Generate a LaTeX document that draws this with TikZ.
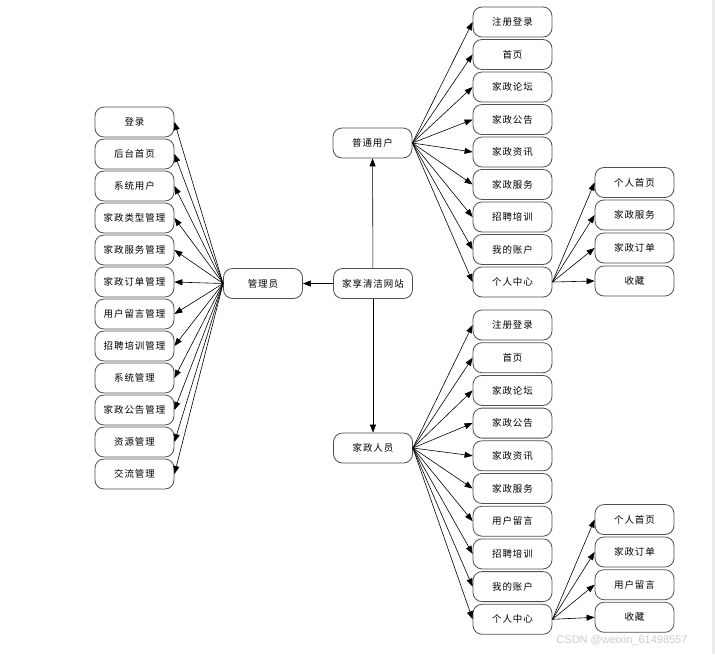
\documentclass[tikz,border=0pt]{standalone}
\usepackage{fontspec}
\newfontfamily\cjk{Noto Sans CJK SC}[LetterSpace=10]
\newfontfamily\wmfont{Liberation Sans}
\usetikzlibrary{arrows.meta}
\definecolor{boxline}{HTML}{505050}
\tikzset{
  box/.style={draw=boxline, line width=0.8pt, rounded corners=9pt, fill=white,
    minimum width=79pt, minimum height=30pt, inner sep=0pt, font=\cjk\fontsize{9.5}{11}\selectfont},
  link/.style={-{Triangle[length=8pt, width=6pt]}, line width=0.6pt, black}
}
\begin{document}
\begin{tikzpicture}[x=1pt, y=-1pt]
    \useasboundingbox (0,0) rectangle (715,654);
    \fill[white] (0,0) rectangle (715,654);
    \fill[gray!15] (712,0) rectangle (715,654);

    % 中心
    \node[box] (site) at (373, 283.5) {家享清洁网站};
    \node[box] (adm) at (263, 283.5) {管理员};
    \node[box] (user) at (372.5, 143) {普通用户};
    \node[box] (staff) at (373, 448) {家政人员};

    % 管理员功能
    \node[box] (a1) at (134.5, 122) {登录};
    \node[box] (a2) at (134.5, 154) {后台首页};
    \node[box] (a3) at (134.5, 186) {系统用户};
    \node[box] (a4) at (134.5, 218) {家政类型管理};
    \node[box] (a5) at (134.5, 250) {家政服务管理};
    \node[box] (a6) at (134.5, 282) {家政订单管理};
    \node[box] (a7) at (134.5, 314) {用户留言管理};
    \node[box] (a8) at (134.5, 346) {招聘培训管理};
    \node[box] (a9) at (134.5, 378) {系统管理};
    \node[box] (a10) at (134.5, 410) {家政公告管理};
    \node[box] (a11) at (134.5, 442) {资源管理};
    \node[box] (a12) at (134.5, 474) {交流管理};

    % 普通用户功能
    \node[box] (u1) at (512.5, 22) {注册登录};
    \node[box] (u2) at (512.5, 54.5) {首页};
    \node[box] (u3) at (512.5, 87) {家政论坛};
    \node[box] (u4) at (512.5, 119.5) {家政公告};
    \node[box] (u5) at (512.5, 152) {家政资讯};
    \node[box] (u6) at (512.5, 184.5) {家政服务};
    \node[box] (u7) at (512.5, 217) {招聘培训};
    \node[box] (u8) at (512.5, 249.5) {我的账户};
    \node[box] (u9) at (512.5, 282) {个人中心};
    \node[box] (uc1) at (634.5, 182.5) {个人首页};
    \node[box] (uc2) at (634.5, 215) {家政服务};
    \node[box] (uc3) at (634.5, 248) {家政订单};
    \node[box] (uc4) at (634.5, 281) {收藏};

    % 家政人员功能
    \node[box] (s1) at (512.5, 325) {注册登录};
    \node[box] (s2) at (512.5, 357.7) {首页};
    \node[box] (s3) at (512.5, 390.4) {家政论坛};
    \node[box] (s4) at (512.5, 423.1) {家政公告};
    \node[box] (s5) at (512.5, 455.8) {家政资讯};
    \node[box] (s6) at (512.5, 488.5) {家政服务};
    \node[box] (s7) at (512.5, 521.2) {用户留言};
    \node[box] (s8) at (512.5, 553.9) {招聘培训};
    \node[box] (s9) at (512.5, 586.6) {我的账户};
    \node[box] (s10) at (512.5, 619.3) {个人中心};
    \node[box] (sc1) at (634.5, 519.5) {个人首页};
    \node[box] (sc2) at (634.5, 552) {家政订单};
    \node[box] (sc3) at (634.5, 584.7) {用户留言};
    \node[box] (sc4) at (634.5, 617.3) {收藏};

    % 箭头
    \draw[link] (site) -- (adm);
    \draw[link] (site) -- (user);
    \draw[link] (site) -- (staff);

    \draw[link] (adm.west) -- (a1.east);
    \draw[link] (adm.west) -- (a2.east);
    \draw[link] (adm.west) -- (a3.east);
    \draw[link] (adm.west) -- (a4.east);
    \draw[link] (adm.west) -- (a5.east);
    \draw[link] (adm.west) -- (a6.east);
    \draw[link] (adm.west) -- (a7.east);
    \draw[link] (adm.west) -- (a8.east);
    \draw[link] (adm.west) -- (a9.east);
    \draw[link] (adm.west) -- (a10.east);
    \draw[link] (adm.west) -- (a11.east);
    \draw[link] (adm.west) -- (a12.east);

    \draw[link] (user.east) -- (u1.west);
    \draw[link] (user.east) -- (u2.west);
    \draw[link] (user.east) -- (u3.west);
    \draw[link] (user.east) -- (u4.west);
    \draw[link] (user.east) -- (u5.west);
    \draw[link] (user.east) -- (u6.west);
    \draw[link] (user.east) -- (u7.west);
    \draw[link] (user.east) -- (u8.west);
    \draw[link] (user.east) -- (u9.west);
    \draw[link] (u9.east) -- (uc1.west);
    \draw[link] (u9.east) -- (uc2.west);
    \draw[link] (u9.east) -- (uc3.west);
    \draw[link] (u9.east) -- (uc4.west);

    \draw[link] (staff.east) -- (s1.west);
    \draw[link] (staff.east) -- (s2.west);
    \draw[link] (staff.east) -- (s3.west);
    \draw[link] (staff.east) -- (s4.west);
    \draw[link] (staff.east) -- (s5.west);
    \draw[link] (staff.east) -- (s6.west);
    \draw[link] (staff.east) -- (s7.west);
    \draw[link] (staff.east) -- (s8.west);
    \draw[link] (staff.east) -- (s9.west);
    \draw[link] (staff.east) -- (s10.west);
    \draw[link] (s10.east) -- (sc1.west);
    \draw[link] (s10.east) -- (sc2.west);
    \draw[link] (s10.east) -- (sc3.west);
    \draw[link] (s10.east) -- (sc4.west);

    % 水印
    \node[gray!40, font=\wmfont\fontsize{11}{13}\selectfont] (wm) at (622, 641) {CSDN @weixin\_61498557};
\end{tikzpicture}
\end{document}
